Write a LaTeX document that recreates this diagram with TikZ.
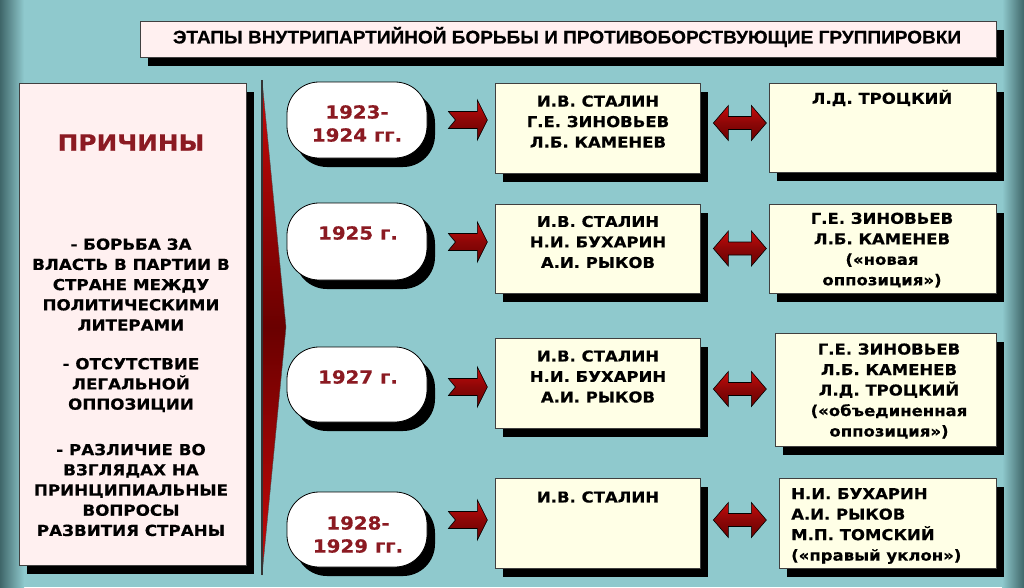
\documentclass[tikz,border=0pt]{standalone}
\usepackage{fontspec}
\setmainfont{DejaVu Sans}[FakeStretch=1.1, BoldFeatures={FakeBold=0.4}]
\newfontfamily\titlefont{Liberation Sans Bold}[FakeStretch=1.04, FakeBold=0.5]
\usetikzlibrary{shadows,calc}
\definecolor{bg}{HTML}{8FC9CD}
\definecolor{bgdark}{HTML}{3F6669}
\definecolor{pinkfill}{HTML}{FFF0F0}
\definecolor{creamfill}{HTML}{FFFFE6}
\definecolor{darkred}{HTML}{8B1A22}
\definecolor{arrred}{HTML}{C80A0A}
\definecolor{arrdark}{HTML}{6A0000}
\tikzset{
 shadowed/.style={drop shadow={shadow xshift=8pt, shadow yshift=-9pt, fill=black, opacity=1}},
 pinkbox/.style={draw=black!75, line width=0.7pt, fill=pinkfill, shadowed, inner sep=0pt},
 creambox/.style={draw=black!75, line width=0.7pt, fill=creamfill, shadowed, inner sep=0pt},
 pill/.style={draw=black, line width=0.8pt, fill=white, rounded corners=32pt, shadowed, inner sep=0pt},
 pilltext/.style={font=\fontsize{18}{23}\selectfont\bfseries, text=darkred, align=center, inner sep=0pt},
 boxtext/.style={font=\fontsize{15}{20.5}\selectfont\bfseries, align=center, inner sep=0pt},
 lefttext/.style={font=\fontsize{15.2}{20.2}\selectfont\bfseries, align=center, inner sep=0pt},
 arrowshape/.style={draw=black, line width=0.6pt, top color=arrred, bottom color=arrdark, middle color=arrred!70!black},
}
\newcommand\RArr[1]{%
 \draw[arrowshape] #1 ++(0,-8.5) -- ++(29,0) -- ++(0,-11.5) -- ++(10,20) -- ++(-10,20) -- ++(0,-11.5) -- ++(-29,0) -- ++(7,-8.5) -- cycle;}
\newcommand\DArr[1]{%
 \draw[arrowshape] #1 -- ++(15,-17.5) -- ++(0,11) -- ++(23,0) -- ++(0,-11) -- ++(15,17.5) -- ++(-15,17.5) -- ++(0,-11) -- ++(-23,0) -- ++(0,11) -- cycle;}
\begin{document}
\begin{tikzpicture}[x=1pt,y=-1pt]
\useasboundingbox (0,0) rectangle (1024,587);
% background
\fill[bg] (0,0) rectangle (1024,587);
\shade[left color=bgdark, right color=bg] (0,0) rectangle (24,587);
\shade[left color=bg, right color=bgdark] (1002,0) rectangle (1024,587);
% title
\node[pinkbox, minimum width=856pt, minimum height=36pt, shadow xshift=7pt, shadow yshift=-10pt] (title) at (568,39) {};
\node[font=\titlefont\fontsize{18.3}{20}\selectfont, inner sep=0pt] (titletext) at (567,37) {ЭТАПЫ ВНУТРИПАРТИЙНОЙ БОРЬБЫ И ПРОТИВОБОРСТВУЮЩИЕ ГРУППИРОВКИ};
% left box
\node[pinkbox, minimum width=227pt, minimum height=482pt, shadow xshift=7pt] (causes) at (132.5,324) {};
\node[font=\fontsize{22.5}{24}\selectfont\bfseries, text=darkred, inner sep=0pt] (causestitle) at (131,142.5) {ПРИЧИНЫ};
\node[lefttext] (c1) at (131,284.5) {- БОРЬБА ЗА\\ВЛАСТЬ В ПАРТИИ В\\СТРАНЕ МЕЖДУ\\ПОЛИТИЧЕСКИМИ\\ЛИТЕРАМИ};
\node[lefttext] (c2) at (131,385) {- ОТСУТСТВИЕ\\ЛЕГАЛЬНОЙ\\ОППОЗИЦИИ};
\node[lefttext] (c3) at (131,490) {- РАЗЛИЧИЕ ВО\\ВЗГЛЯДАХ НА\\ПРИНЦИПИАЛЬНЫЕ\\ВОПРОСЫ\\РАЗВИТИЯ СТРАНЫ};
% big triangle
\coordinate (ttop) at (262,80);
\coordinate (tbot) at (262,575);
\coordinate (ttip) at (286,327);
\path[top color=arrred, bottom color=arrred, middle color=arrdark, draw=black!70, line width=0.4pt] (ttop) -- (ttip) -- (tbot) -- cycle;
\draw[black!80, line width=1.2pt] (ttop) -- (tbot);
% pills
\node[pill, minimum width=140pt, minimum height=76pt] (p1) at (357,120) {};
\node[pill, minimum width=140pt, minimum height=77pt] (p2) at (357,241.5) {};
\node[pill, minimum width=140pt, minimum height=75pt] (p3) at (357,384.5) {};
\node[pill, minimum width=140pt, minimum height=75pt] (p4) at (357,529.5) {};
\node[pilltext] (p1t) at (357,123.5) {1923-\\1924 гг.};
\node[pilltext] (p2t) at (358,233) {1925 г.};
\node[pilltext] (p3t) at (358,377) {1927 г.};
\node[pilltext] (p4t) at (358,534.5) {1928-\\1929 гг.};
% middle boxes
\node[creambox, minimum width=205pt, minimum height=90pt] (m1) at (597.5,128) {};
\node[creambox, minimum width=205pt, minimum height=89pt] (m2) at (597.5,248.5) {};
\node[creambox, minimum width=205pt, minimum height=90pt] (m3) at (597.5,383) {};
\node[creambox, minimum width=205pt, minimum height=90pt] (m4) at (597.5,523) {};
\node[boxtext] (m1t) at (598,121.5) {И.В. СТАЛИН\\Г.Е. ЗИНОВЬЕВ\\Л.Б. КАМЕНЕВ};
\node[boxtext] (m2t) at (598,242) {И.В. СТАЛИН\\Н.И. БУХАРИН\\А.И. РЫКОВ};
\node[boxtext] (m3t) at (598,376.5) {И.В. СТАЛИН\\Н.И. БУХАРИН\\А.И. РЫКОВ};
\node[boxtext] (m4t) at (598,497) {И.В. СТАЛИН};
% right boxes
\node[creambox, minimum width=227pt, minimum height=89pt] (r1) at (882.5,127.5) {};
\node[creambox, minimum width=227pt, minimum height=89pt] (r2) at (882.5,248.5) {};
\node[creambox, minimum width=221pt, minimum height=113pt] (r3) at (885.5,389.5) {};
\node[creambox, minimum width=217pt, minimum height=90pt] (r4) at (887.5,523) {};
\node[boxtext] (r1t) at (882,98) {Л.Д. ТРОЦКИЙ};
\node[boxtext] (r2t) at (882,250) {Г.Е. ЗИНОВЬЕВ\\Л.Б. КАМЕНЕВ\\(«новая\\оппозиция»)};
\node[boxtext] (r3t) at (889,391) {Г.Е. ЗИНОВЬЕВ\\Л.Б. КАМЕНЕВ\\Л.Д. ТРОЦКИЙ\\(«объединенная\\оппозиция»)};
\node[boxtext, align=left, anchor=west] (r4t) at (791,526) {Н.И. БУХАРИН\\А.И. РЫКОВ\\М.П. ТОМСКИЙ\\(«правый уклон»)};
% arrows
\RArr{($(p1.east)+(21,0)$)}
\RArr{($(p2.east)+(21,0.5)$)}
\RArr{($(p3.east)+(21,2.5)$)}
\RArr{($(p4.east)+(21,-9.5)$)}
\DArr{($(m1.east)+(13,-5)$)}
\DArr{($(m2.east)+(13,0)$)}
\DArr{($(m3.east)+(13,6)$)}
\DArr{($(m4.east)+(13,-3)$)}
\end{tikzpicture}
\end{document}
